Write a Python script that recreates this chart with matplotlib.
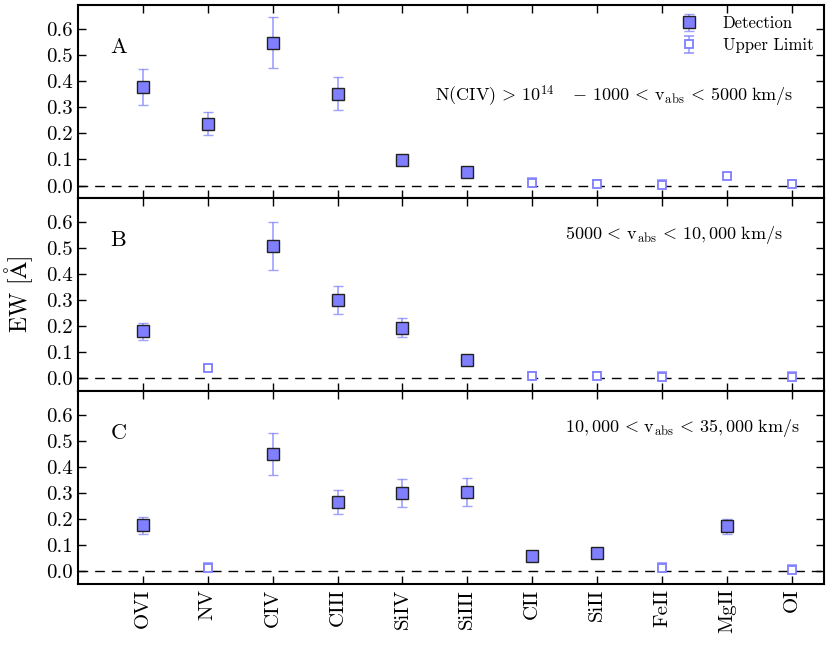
import numpy as np
import matplotlib
matplotlib.use("Agg")
import matplotlib.pyplot as plt

plt.rcParams['font.family'] = 'serif'
plt.rcParams['font.serif'] = ['cmr10']
plt.rcParams['mathtext.fontset'] = 'cm'
plt.rcParams['axes.unicode_minus'] = False
plt.rcParams['axes.formatter.use_mathtext'] = True

ions = ['OVI', 'NV', 'CIV', 'CIII', 'SiIV', 'SiIII', 'CII', 'SiII', 'FeII', 'MgII', 'OI']

# Panel A
a_det_idx = [0, 1, 2, 3, 4, 5]
a_det_val = [0.378, 0.237, 0.545, 0.350, 0.097, 0.050]
a_det_lo = [0.310, 0.195, 0.448, 0.290, 0.097, 0.050]
a_det_hi = [0.446, 0.280, 0.645, 0.415, 0.097, 0.050]
a_ul_idx = [6, 7, 8, 9, 10]
a_ul_val = [0.010, 0.005, 0.004, 0.035, 0.005]
a_ul_err = [0.018, 0.018, 0.018, 0.012, 0.018]

# Panel B
b_det_idx = [0, 2, 3, 4, 5]
b_det_val = [0.180, 0.505, 0.300, 0.195, 0.072]
b_det_lo = [0.148, 0.415, 0.245, 0.160, 0.072]
b_det_hi = [0.213, 0.597, 0.353, 0.230, 0.072]
b_ul_idx = [1, 6, 7, 8, 10]
b_ul_val = [0.040, 0.008, 0.008, 0.005, 0.005]
b_ul_err = [0.012, 0.018, 0.018, 0.018, 0.018]

# Panel C
c_det_idx = [0, 2, 3, 4, 5, 6, 7, 9]
c_det_val = [0.178, 0.448, 0.265, 0.300, 0.303, 0.058, 0.070, 0.172]
c_det_lo = [0.145, 0.367, 0.218, 0.247, 0.250, 0.058, 0.070, 0.142]
c_det_hi = [0.210, 0.528, 0.313, 0.355, 0.358, 0.058, 0.070, 0.202]
c_ul_idx = [1, 8, 10]
c_ul_val = [0.012, 0.012, 0.007]
c_ul_err = [0.020, 0.020, 0.018]

labels = ['A', 'B', 'C']
notes = [r'N(CIV)$\,>\,10^{14}\quad -\,1000\,<\,\mathrm{v}_{\rm abs}\,<\,5000\ \mathrm{km/s}$',
         r'$5000\,<\,\mathrm{v}_{\rm abs}\,<\,10,000\ \mathrm{km/s}$',
         r'$10,000\,<\,\mathrm{v}_{\rm abs}\,<\,35,000\ \mathrm{km/s}$']
note_x = [4.5, 6.5, 6.5]
note_y = [0.34, 0.55, 0.55]

panels = [
    (a_det_idx, a_det_val, a_det_lo, a_det_hi, a_ul_idx, a_ul_val, a_ul_err),
    (b_det_idx, b_det_val, b_det_lo, b_det_hi, b_ul_idx, b_ul_val, b_ul_err),
    (c_det_idx, c_det_val, c_det_lo, c_det_hi, c_ul_idx, c_ul_val, c_ul_err),
]

fc = '#7f7fff'
ecol = (0.5, 0.5, 1.0, 0.75)

fig, axes = plt.subplots(3, 1, figsize=(8.3, 6.46), dpi=100, sharex=True)
fig.subplots_adjust(left=0.094, right=0.993, top=0.992, bottom=0.096, hspace=0)

for k, ax in enumerate(axes):
    di, dv, dlo, dhi, ui, uv, ue = panels[k]
    dv = np.array(dv); dlo = np.array(dlo); dhi = np.array(dhi)
    ax.axhline(0, color='k', ls=(0, (7, 5)), lw=1.0, zorder=1)
    h1 = ax.errorbar(di, dv, yerr=[dv - dlo, dhi - dv], fmt='s', ms=8,
                     mfc=fc, mec='#222222', mew=1.0, ecolor=ecol, elinewidth=1.2,
                     capsize=3.6, capthick=1.2, zorder=3, label='Detection')
    uv = np.array(uv); ue = np.array(ue)
    h2 = ax.errorbar(ui, uv, yerr=[np.zeros_like(ue), ue], fmt='s', ms=6,
                     mfc='white', mec=fc, mew=1.3, ecolor=ecol, elinewidth=1.2,
                     capsize=3.3, capthick=2.2, zorder=3, label='Upper Limit')
    ax.set_ylim(-0.048, 0.69)
    ax.set_xlim(-1, 10.5)
    ax.set_yticks([0.0, 0.1, 0.2, 0.3, 0.4, 0.5, 0.6])
    ax.set_yticklabels(['0.0', '0.1', '0.2', '0.3', '0.4', '0.5', '0.6'])
    ax.tick_params(direction='in', top=True, right=True, length=6, width=1,
                   labelsize=15)
    for s in ax.spines.values():
        s.set_linewidth(1.5)
    ax.text(-0.5, 0.53, labels[k], fontsize=16, va='center', ha='left')
    ax.text(note_x[k], note_y[k], notes[k], fontsize=13,
            va='center', ha='left')
    if k == 0:
        ax.legend(handles=[h1, h2], loc='upper right', frameon=False,
                  fontsize=12, handletextpad=1.0, borderaxespad=0.25,
                  labelspacing=0.4, handlelength=2.0)

axes[2].set_xticks(range(len(ions)))
axes[2].set_xticklabels(ions, rotation=90)
axes[1].set_ylabel(r'EW [$\mathrm{\AA}$]', fontsize=17, labelpad=8)

fig.savefig('out.png', dpi=100)
